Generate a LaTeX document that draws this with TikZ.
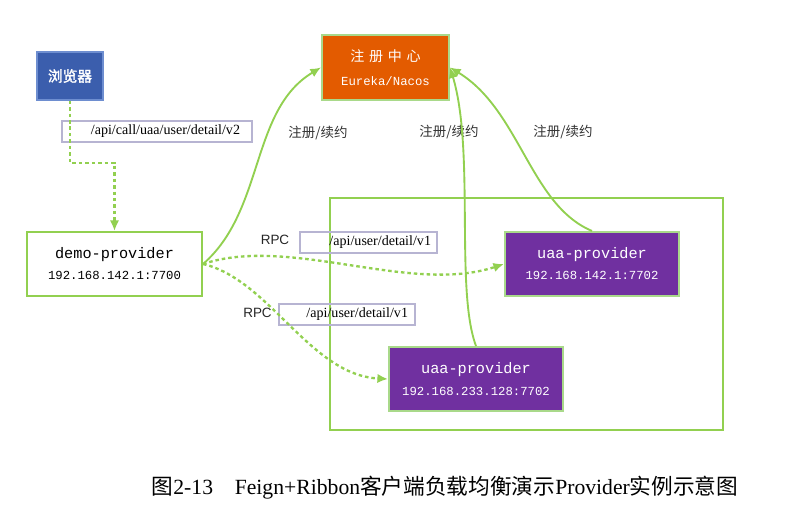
\documentclass[tikz,border=0pt]{standalone}
\usepackage{fontspec}
\usepackage{xcolor}
\usepackage{tikz}
\usetikzlibrary{arrows.meta}
\setmainfont{Liberation Serif}
\setsansfont{Liberation Sans}
\setmonofont{Liberation Mono}
\newfontfamily\cjk{Noto Sans CJK SC}
\newfontfamily\cjkbold[FakeBold=2]{Noto Sans CJK SC}

\definecolor{lgreen}{HTML}{92D050}
\definecolor{paleframe}{HTML}{A9D98A}
\definecolor{pathframe}{HTML}{B7B4D2}
\definecolor{browserblue}{HTML}{3B5EAD}
\definecolor{browserframe}{HTML}{6E8ED0}
\definecolor{regorange}{HTML}{E35B00}
\definecolor{uaapurple}{HTML}{7030A0}

\begin{document}
\begin{tikzpicture}[x=0.03cm, y=-0.03cm,
  hostbox/.style={draw=lgreen, line width=1.8pt, align=center,
    minimum width=5.25cm, minimum height=1.92cm, font=\ttfamily},
  uaabox/.style={hostbox, draw=paleframe, fill=uaapurple, text=white, minimum width=5.22cm},
  pathbox/.style={draw=pathframe, line width=1.1pt, align=right, inner ysep=0pt,
    minimum height=0.63cm, font=\fontsize{12}{12}\selectfont},
  link/.style={lgreen, line width=1.6pt, -{Latex[length=9pt,width=8pt]}},
  call/.style={link, line width=2pt, dash pattern=on 3pt off 2.5pt},
  note/.style={font=\cjk\fontsize{11.5}{12}\selectfont, text=black!80},
  rpc/.style={font=\sffamily\fontsize{11.5}{12}\selectfont, text=black!85}]
\useasboundingbox (0,0) rectangle (807,517);
\def\Host#1#2{{\fontsize{13}{15}\selectfont #1}\\[6pt]{\fontsize{10.5}{12}\selectfont #2}}

%browser + registry
\node[draw=browserframe, fill=browserblue, line width=1.2pt, minimum width=1.98cm, minimum height=1.44cm,
  text=white, font=\cjkbold\fontsize{12.5}{13}\selectfont] (browser) at (70,76) {浏览器};
\node[draw=paleframe, fill=regorange, line width=1.8pt, minimum width=3.81cm,
  minimum height=1.95cm, text=white, align=center] (registry) at (385.5,67.5)
  {{\cjk\fontsize{12}{13}\selectfont 注\hspace{4pt}册\hspace{4pt}中\hspace{4pt}心}\\[8pt]
   {\ttfamily\fontsize{10.5}{12}\selectfont Eureka/Nacos}};

%service group
\draw[lgreen, line width=1.8pt] (330,198) rectangle (723,430);

\node[hostbox] (demo) at (114.5,264) {\Host{demo-provider}{192.168.142.1:7700}};
\node[uaabox] (uaa1) at (592,264) {\Host{uaa-provider}{192.168.142.1:7702}};
\node[uaabox] (uaa2) at (476,379) {\Host{uaa-provider}{192.168.233.128:7702}};

%url labels
\node[pathbox, minimum width=5.7cm, text width=4.98cm, inner xsep=0.36cm] (url0) at (157,131.5) {/api/call/uaa/user/detail/v2};
\node[pathbox, minimum width=4.11cm, text width=3.75cm, inner xsep=0.18cm] (url1) at (368.5,242.5) {/api/user/detail/v1};
\node[pathbox, minimum width=4.08cm, text width=3.66cm, inner xsep=0.21cm] (url2) at (347,314.5) {/api/user/detail/v1};
\node[rpc] (rpc1) at (275,240) {RPC};
\node[rpc] (rpc2) at (257.5,313) {RPC};

\node[note] (reg0) at (318,133) {注册/续约};
\node[note] (reg1) at (449,132) {注册/续约};
\node[note] (reg2) at (563,132) {注册/续约};

%connectors
\draw[call] (browser.south) -- ++(0,62) -| (demo.north);
\draw[call] (demo.east) .. controls (290,235) and (410,295) .. (uaa1.west);
\draw[call] (demo.east) .. controls (270,280) and (310,375) .. (uaa2.west);
\draw[link] (demo.east) .. controls (265,210) and (250,110) .. (registry.west);
\draw[link] (uaa2.north) .. controls (455,290) and (475,150) .. (registry.east);
\draw[link] (uaa1.north) .. controls (530,205) and (520,110) .. (registry.east);

\node[font=\fontsize{18.5}{20}\selectfont] (caption) at (445,488)
  {{\cjk 图}2-13\quad Feign+Ribbon{\cjk 客户端负载均衡演示}Provider{\cjk 实例示意图}};
\end{tikzpicture}
\end{document}
